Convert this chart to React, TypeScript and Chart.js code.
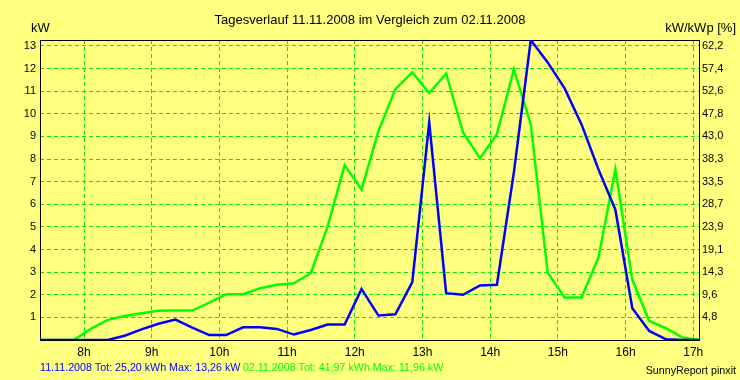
import React, { useEffect, useRef } from 'react';
import { Chart, registerables } from 'chart.js';

Chart.register(...registerables);

// Sample times (15-minute intervals)
const TIMES = [
  '07:21', '07:36', '07:51',
  '08:06', '08:21', '08:36', '08:51',
  '09:06', '09:21', '09:36', '09:51',
  '10:06', '10:21', '10:36', '10:51',
  '11:06', '11:21', '11:36', '11:51',
  '12:06', '12:21', '12:36', '12:51',
  '13:06', '13:21', '13:36', '13:51',
  '14:06', '14:21', '14:36', '14:51',
  '15:06', '15:21', '15:36', '15:51',
  '16:06', '16:21', '16:36', '16:51',
  '17:06',
];

// kW, 11.11.2008 (blue)
const DAY_1111 = [
  0, 0, 0, 0, 0, 0.19, 0.47, 0.72, 0.9, 0.55,
  0.22, 0.22, 0.56, 0.56, 0.49, 0.24, 0.44, 0.68, 0.68, 2.25,
  1.08, 1.14, 2.56, 9.61, 2.07, 2.0, 2.41, 2.44, 7.4, 13.26,
  12.27, 11.12, 9.53, 7.54, 5.76, 1.4, 0.4, 0.03, 0, 0,
];

// kW, 02.11.2008 (green)
const DAY_0211 = [
  0, 0, 0, 0.49, 0.89, 1.06, 1.18, 1.29, 1.3, 1.3,
  1.65, 2.02, 2.02, 2.29, 2.44, 2.51, 2.95, 5.02, 7.73, 6.65,
  9.24, 11.09, 11.83, 10.91, 11.78, 9.17, 8.03, 9.1, 11.96, 9.53,
  2.98, 1.88, 1.88, 3.65, 7.54, 2.66, 0.84, 0.52, 0.1, 0,
];

const X_TICKS = [8, 9, 10, 11, 12, 13, 14, 15, 16, 17];
const Y_TICKS = [1, 2, 3, 4, 5, 6, 7, 8, 9, 10, 11, 12, 13];
const RIGHT_LABELS = ['4,8', '9,6', '14,3', '19,1', '23,9', '28,7', '33,5', '38,3', '43,0', '47,8', '52,6', '57,4', '62,2'];

const X_MIN = 7.35;
const X_MAX = 17.1;
const Y_MAX = 13.26;

const TITLE = 'Tagesverlauf 11.11.2008 im Vergleich zum 02.11.2008';
const LEFT_UNIT = 'kW';
const RIGHT_UNIT = 'kW/kWp [%]';
const LEGEND_BLUE = '11.11.2008 Tot: 25,20 kWh Max: 13,26 kW';
const LEGEND_GREEN = '02.11.2008 Tot: 41,97 kWh Max: 11,96 kW';
const CREDIT = 'SunnyReport pinxit';

const BG = '#ffff80';
const BLUE = '#0000ff';
const GREEN = '#00ff00';
const GRID = '#00ee00';
const FONT = '"Liberation Sans", Arial, sans-serif';

const toHours = (t: string) => {
  const [h, m] = t.split(':').map(Number);
  return h + m / 60;
};

const decorPlugin = {
  id: 'decor',
  beforeDraw(chart: any) {
    const ctx = chart.ctx;
    ctx.save();
    ctx.fillStyle = BG;
    ctx.fillRect(0, 0, chart.width, chart.height);
    ctx.restore();
  },
  beforeDatasetsDraw(chart: any) {
    const { ctx, chartArea } = chart;
    ctx.save();
    ctx.strokeStyle = '#000';
    ctx.lineWidth = 1;
    ctx.strokeRect(
      chartArea.left + 0.5,
      chartArea.top + 0.5,
      chartArea.right - chartArea.left - 1,
      chartArea.bottom - chartArea.top
    );
    ctx.restore();
  },
  afterDraw(chart: any) {
    const ctx = chart.ctx;
    ctx.save();
    ctx.textBaseline = 'alphabetic';
    ctx.fillStyle = '#000';
    ctx.font = `13px ${FONT}`;
    ctx.textAlign = 'center';
    ctx.fillText(TITLE, 370, 24);
    ctx.textAlign = 'left';
    ctx.fillText(LEFT_UNIT, 31, 32);
    ctx.textAlign = 'right';
    ctx.fillText(RIGHT_UNIT, 736, 32);

    ctx.font = `10.7px ${FONT}`;
    ctx.textAlign = 'left';
    ctx.fillStyle = BLUE;
    ctx.fillText(LEGEND_BLUE, 40, 371);
    const w = ctx.measureText(LEGEND_BLUE).width;
    ctx.fillStyle = GREEN;
    ctx.fillText(LEGEND_GREEN, 40 + w + 2.5, 371);
    ctx.fillStyle = '#000';
    ctx.textAlign = 'right';
    ctx.fillText(CREDIT, 736, 374);
    ctx.restore();
  },
};

export default function App() {
  const ref = useRef<HTMLCanvasElement>(null);

  useEffect(() => {
    document.body.style.margin = '0';
    document.body.style.background = BG;
    const canvas = ref.current;
    if (!canvas) return;

    const chart = new Chart(canvas, {
      type: 'line',
      data: {
        datasets: [
          {
            label: '11.11.2008',
            data: TIMES.map((t, i) => ({ x: toHours(t), y: DAY_1111[i] })),
            borderColor: BLUE,
            backgroundColor: BLUE,
            borderWidth: 2.5,
            pointRadius: 0,
            tension: 0,
            fill: false,
            yAxisID: 'y',
          },
          {
            label: '02.11.2008',
            data: TIMES.map((t, i) => ({ x: toHours(t), y: DAY_0211[i] })),
            borderColor: GREEN,
            backgroundColor: GREEN,
            borderWidth: 2.5,
            pointRadius: 0,
            tension: 0,
            fill: false,
            yAxisID: 'y',
          },
        ],
      },
      options: {
        responsive: false,
        maintainAspectRatio: false,
        animation: false,
        devicePixelRatio: 1,
        events: [],
        layout: { padding: { top: 40, left: 0, right: 0, bottom: 0 } },
        plugins: {
          legend: { display: false },
          title: { display: false },
          tooltip: { enabled: false },
        },
        scales: {
          x: {
            type: 'linear',
            min: X_MIN,
            max: X_MAX,
            afterBuildTicks: (s: any) => {
              s.ticks = X_TICKS.map((v) => ({ value: v }));
            },
            afterFit: (s: any) => {
              s.height = 40;
            },
            grid: { color: GRID, lineWidth: 1, drawTicks: false },
            border: { display: false, dash: [4, 3] },
            ticks: {
              autoSkip: false,
              maxRotation: 0,
              padding: 5,
              color: '#000',
              font: { family: FONT, size: 12 },
              callback: (v: any) => `${v}h`,
            },
          },
          y: {
            type: 'linear',
            position: 'left',
            min: 0,
            max: Y_MAX,
            afterBuildTicks: (s: any) => {
              s.ticks = Y_TICKS.map((v) => ({ value: v }));
            },
            afterFit: (s: any) => {
              s.width = 40;
            },
            grid: { color: GRID, lineWidth: 1, drawTicks: false },
            border: { display: false, dash: [4, 3] },
            ticks: {
              autoSkip: false,
              padding: 4,
              color: '#000',
              font: { family: FONT, size: 11 },
              callback: (v: any) => String(v),
            },
          },
          y2: {
            type: 'linear',
            position: 'right',
            min: 0,
            max: Y_MAX,
            afterBuildTicks: (s: any) => {
              s.ticks = Y_TICKS.map((v) => ({ value: v }));
            },
            afterFit: (s: any) => {
              s.width = 40;
            },
            grid: { display: false, drawTicks: false },
            border: { display: false },
            ticks: {
              autoSkip: false,
              padding: 2,
              color: '#000',
              font: { family: FONT, size: 11 },
              callback: (_v: any, i: number) => RIGHT_LABELS[i],
            },
          },
        },
      },
      plugins: [decorPlugin],
    } as any);

    return () => chart.destroy();
  }, []);

  return (
    <canvas
      ref={ref}
      width={740}
      height={380}
      style={{ display: 'block', width: 740, height: 380 }}
    />
  );
}
